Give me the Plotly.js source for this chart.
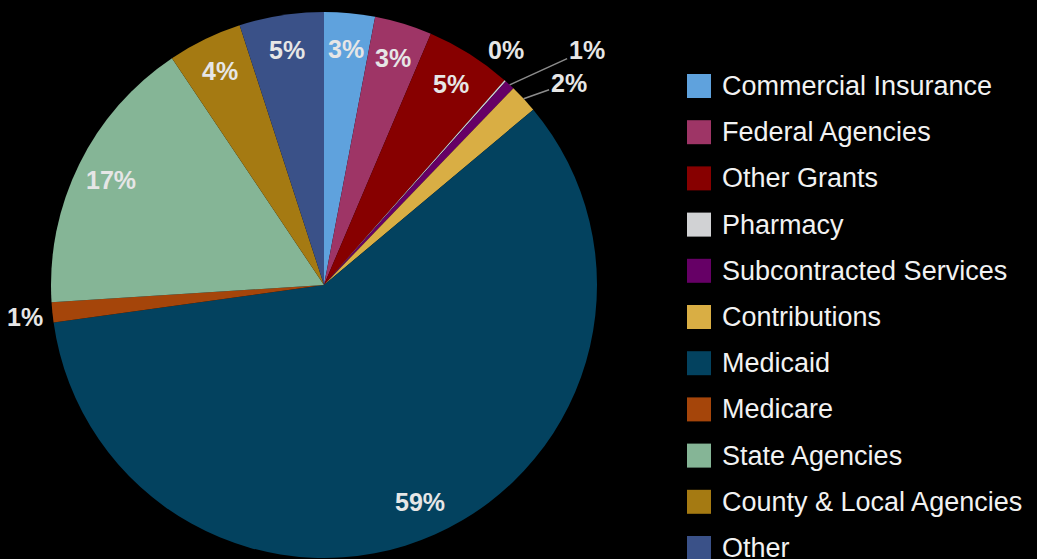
<!DOCTYPE html>
<html>
<head>
<meta charset="utf-8">
<script src="https://cdn.plot.ly/plotly-3.0.1.min.js"></script>
<style>
  html, body { margin: 0; padding: 0; background: #000; }
  #chart { width: 1037px; height: 559px; }
</style>
</head>
<body>
<div id="chart"></div>
<script>
// ---- data ----
const categories = [
  "Commercial Insurance", "Federal Agencies", "Other Grants", "Pharmacy",
  "Subcontracted Services", "Contributions", "Medicaid", "Medicare",
  "State Agencies", "County & Local Agencies", "Other"
];
const shares = [3.0, 3.4, 5.1, 0.1, 0.6, 1.7, 58.9, 1.2, 16.6, 4.4, 5.0];
const colors = [
  "#5fa2dd", "#9e3566", "#870000", "#d1d2d4", "#660066", "#d9ae44",
  "#03425f", "#a5450a", "#85b596", "#a57a12", "#3a5188"
];

// ---- layout (label placement, not data) ----
const W = 1037, H = 559;
const pieDomainPx = { x0: 51, x1: 597, top: 12, bottom: 558 };
const labelMode = ["in", "in", "in", "out", "out", "out", "in", "out", "in", "in", "in"];
// pixel offsets of outside labels from the slice rim, and whether a leader line is drawn
const outsideOffset = {
  3: { dx: 1, dy: -31, line: false },
  4: { dx: 77, dy: -35, line: true },
  5: { dx: 45, dy: -16, line: true },
  7: { dx: -27, dy: 5, line: false }
};
const insideRadiusFrac = 0.87;
const legendX = 687, legendSq = 24, legendTop = 86, legendStep = 46.2, legendTextX = 720;

const labelFont = { family: "Liberation Sans, Arial, sans-serif", size: 25, color: "#e6e6e6", weight: "bold" };

const pie = {
  type: "pie",
  labels: categories,
  values: shares,
  sort: false,
  direction: "clockwise",
  rotation: 0,
  marker: { colors: colors, line: { width: 0 } },
  textinfo: "none",
  domain: { x: [pieDomainPx.x0 / W, pieDomainPx.x1 / W], y: [(H - pieDomainPx.bottom) / H, (H - pieDomainPx.top) / H] },
  hoverinfo: "label+percent",
  showlegend: false
};

// pie geometry derived from the domain
const cx = (pieDomainPx.x0 + pieDomainPx.x1) / 2;
const cy = (pieDomainPx.top + pieDomainPx.bottom) / 2;
const R = (pieDomainPx.x1 - pieDomainPx.x0) / 2;
const total = shares.reduce((a, b) => a + b, 0);

const shapes = [];
const annotations = [];

// percentage labels, positioned from the cumulative shares
let cum = 0;
shares.forEach((v, i) => {
  const mid = (cum + v / 2) / total * 2 * Math.PI;
  cum += v;
  const pct = Math.round(v / total * 100) + "%";
  if (labelMode[i] === "in") {
    const r = R * insideRadiusFrac;
    annotations.push({
      xref: "paper", yref: "paper",
      x: (cx + r * Math.sin(mid)) / W, y: (H - (cy - r * Math.cos(mid))) / H,
      xanchor: "center", yanchor: "middle", showarrow: false,
      text: pct, font: labelFont
    });
  } else {
    const o = outsideOffset[i];
    const px = cx + R * Math.sin(mid), py = cy - R * Math.cos(mid);
    if (o.line) {
      annotations.push({
        xref: "paper", yref: "paper",
        x: px / W, y: (H - py) / H,
        ax: o.dx, ay: o.dy, axref: "pixel", ayref: "pixel",
        showarrow: true, arrowhead: 0, arrowwidth: 1.5, arrowcolor: "#8c8c8c",
        standoff: 0, startstandoff: 0,
        text: pct, font: labelFont
      });
    } else {
      annotations.push({
        xref: "paper", yref: "paper",
        x: (px + o.dx) / W, y: (H - (py + o.dy)) / H,
        xanchor: "center", yanchor: "middle", showarrow: false,
        text: pct, font: labelFont
      });
    }
  }
});

// legend
categories.forEach((name, i) => {
  const ly = legendTop + legendStep * i;
  shapes.push({
    type: "rect", xref: "paper", yref: "paper",
    x0: legendX / W, x1: (legendX + legendSq) / W,
    y0: (H - (ly + legendSq / 2)) / H, y1: (H - (ly - legendSq / 2)) / H,
    fillcolor: colors[i], line: { width: 0 }
  });
  annotations.push({
    xref: "paper", yref: "paper",
    x: legendTextX / W, y: (H - ly) / H,
    xanchor: "left", yanchor: "middle",
    text: name, showarrow: false,
    font: { family: "Liberation Sans, Arial, sans-serif", size: 27, color: "#f2f2f2" }
  });
});

const layout = {
  width: W, height: H,
  paper_bgcolor: "#000000",
  plot_bgcolor: "#000000",
  margin: { l: 0, r: 0, t: 0, b: 0 },
  showlegend: false,
  shapes: shapes,
  annotations: annotations
};

Plotly.newPlot("chart", [pie], layout, { displayModeBar: false, staticPlot: true });
</script>
</body>
</html>
